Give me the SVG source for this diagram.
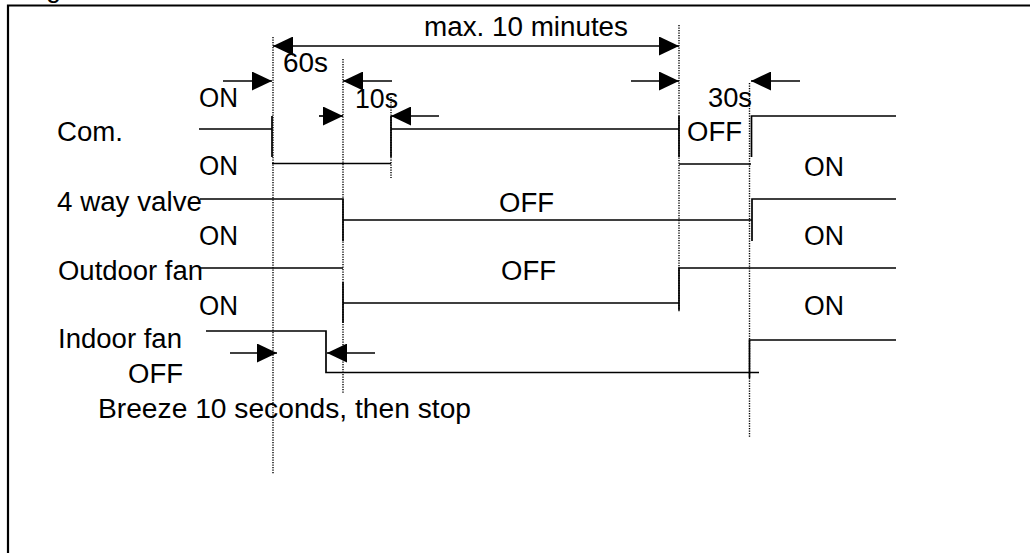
<svg xmlns="http://www.w3.org/2000/svg" width="1031" height="553" viewBox="0 0 1031 553">
<style>
text{font-family:"Liberation Sans",Arial,sans-serif;font-size:27px;fill:#000}
.sig{fill:none;stroke:#000;stroke-width:1.7}
.thin{fill:none;stroke:#000;stroke-width:1.3}
.dot{fill:none;stroke:#000;stroke-width:1.4;stroke-dasharray:1.2 1.3}
.arr{fill:none;stroke:#000;stroke-width:1.7;marker-end:url(#ah)}
</style>
<defs>
<marker id="ah" viewBox="0 0 20 19" markerWidth="20" markerHeight="19" refX="20" refY="9.5" orient="auto-start-reverse" markerUnits="userSpaceOnUse">
<path d="M0,0 L20,9.5 L0,19 z" fill="#000"/>
</marker>
</defs>
<rect width="1031" height="553" fill="#fff"/>
<g id="frame">
<path d="M8,553 V5.5 H1030" fill="none" stroke="#000" stroke-width="2.2"/>
<text x="46" y="-3">g</text>
</g>
<g id="guides">
<path class="dot" d="M273,37 V474"/>
<path class="dot" d="M343,59 V393"/>
<path class="dot" d="M391,97 V178"/>
<path class="dot" d="M679,25 V312"/>
<path class="dot" d="M749.5,83 V438"/>
</g>
<g id="com">
<path class="sig" d="M199,129 H272 M272,116 V157 M391,116 V157 M391,129 H679 M679,116 V157 M751.5,157 V116 H896"/>
<path class="thin" d="M272,163.5 H391 M679,164 H751"/>
<text x="57" y="141" textLength="66" lengthAdjust="spacingAndGlyphs">Com.</text>
<text x="199" y="107" textLength="39" lengthAdjust="spacingAndGlyphs">ON</text>
<text x="199" y="175" textLength="39" lengthAdjust="spacingAndGlyphs">ON</text>
<text x="687" y="141" textLength="55" lengthAdjust="spacingAndGlyphs">OFF</text>
<text x="804" y="176" textLength="40" lengthAdjust="spacingAndGlyphs">ON</text>
</g>
<g id="valve">
<path class="sig" d="M200,199 H343 V241 M343,220 H752 M752,241 V199 H896"/>
<text x="57" y="211" textLength="145" lengthAdjust="spacingAndGlyphs">4 way valve</text>
<text x="499" y="212" textLength="55" lengthAdjust="spacingAndGlyphs">OFF</text>
<text x="199" y="245" textLength="39" lengthAdjust="spacingAndGlyphs">ON</text>
<text x="804" y="245" textLength="40" lengthAdjust="spacingAndGlyphs">ON</text>
</g>
<g id="outdoor-fan">
<path class="sig" d="M200,268 H343 M343,282 V323 M343,303 H679 M679,310 V268 H896"/>
<text x="58" y="280" textLength="145" lengthAdjust="spacingAndGlyphs">Outdoor fan</text>
<text x="501" y="280" textLength="55" lengthAdjust="spacingAndGlyphs">OFF</text>
<text x="199" y="315" textLength="39" lengthAdjust="spacingAndGlyphs">ON</text>
<text x="804" y="315" textLength="40" lengthAdjust="spacingAndGlyphs">ON</text>
</g>
<g id="indoor-fan">
<path class="sig" d="M206,331 H326 V372.5 H759 M749.5,378 V340 H896"/>
<text x="58" y="348" textLength="124" lengthAdjust="spacingAndGlyphs">Indoor fan</text>
<text x="128" y="383" textLength="55" lengthAdjust="spacingAndGlyphs">OFF</text>
<text x="98" y="418" textLength="373" lengthAdjust="spacingAndGlyphs">Breeze 10 seconds, then stop</text>
</g>
<g id="connectors">
<path class="arr" d="M273,46 H679" marker-start="url(#ah)"/>
<path class="arr" d="M223,81 H272"/>
<path class="arr" d="M319,116 H343"/>
<path class="arr" d="M392,81 H343"/>
<path class="arr" d="M439,116 H391"/>
<path class="arr" d="M631,81 H679"/>
<path class="arr" d="M800,81 H751"/>
<path class="arr" d="M230,353 H277"/>
<path class="arr" d="M375,353 H327"/>
</g>
<g id="timing-labels">
<text x="424" y="36" textLength="204" lengthAdjust="spacingAndGlyphs">max. 10 minutes</text>
<text x="283" y="72" textLength="45" lengthAdjust="spacingAndGlyphs">60s</text>
<text x="355" y="108" textLength="43" lengthAdjust="spacingAndGlyphs">10s</text>
<text x="708" y="107" textLength="44" lengthAdjust="spacingAndGlyphs">30s</text>
</g>
</svg>
